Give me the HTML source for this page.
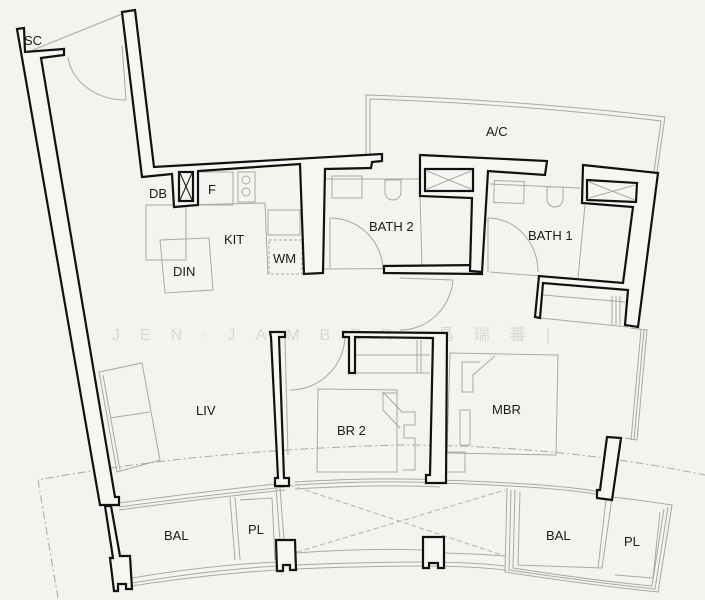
<!DOCTYPE html>
<html><head><meta charset="utf-8"><style>
html,body{margin:0;padding:0;background:#f3f3ef;}
svg{display:block;}
text{font-family:"Liberation Sans",Arial,sans-serif;font-size:13px;fill:#1a1a1a;}
</style></head><body>
<svg width="705" height="600" viewBox="0 0 705 600" xmlns="http://www.w3.org/2000/svg">
<rect width="705" height="600" fill="#f3f3ef"/>
<!-- watermark -->
<text x="112" y="340" style="font-size:16px;fill:#d9d9d4;letter-spacing:20px" font-family="Liberation Sans, Noto Sans CJK SC, sans-serif">JEN·JAMBER·晶瑞蕃|</text>

<!-- thin lines: A/C, balconies, furniture -->
<g fill="none" stroke="#a8a8a4" stroke-width="1">
<path d="M366,157 L366,95 Q520,100 665,117 L657,172"/>
<path d="M370,157 L370,99 Q520,104 661,121 L654,172"/>
<!-- entrance door -->
<line x1="122" y1="45" x2="126" y2="100"/>
<path d="M68,57 A58,48 0 0 0 126,100"/>
<line x1="28" y1="52" x2="122" y2="14"/>
<!-- kitchen furniture -->
<rect x="146" y="205" width="40" height="55"/>
<polygon points="160,240 209,238 213,290 165,293"/>
<rect x="198" y="172" width="35" height="33"/>
<rect x="238" y="172" width="17" height="30"/>
<circle cx="246" cy="180" r="4"/><circle cx="246" cy="192" r="4"/>
<polyline points="186,205 265,203 268,275"/>
<rect x="268" y="210" width="32" height="25"/>
<rect x="269" y="240" width="33" height="34" stroke-dasharray="3,2"/>
<!-- bath fixtures -->
<rect x="332" y="176" width="30" height="22"/>
<path d="M385,180 v12 a8,8 0 0 0 16,0 v-12 z"/>
<line x1="320" y1="179" x2="420" y2="179"/>
<line x1="420" y1="196" x2="422" y2="268"/>
<line x1="322" y1="269" x2="472" y2="268"/>
<rect x="494" y="181" width="30" height="22" transform="rotate(2 509 192)"/>
<path d="M547,187 v12 a8,8 0 0 0 16,0 v-12 z"/>
<line x1="490" y1="184" x2="580" y2="188"/>
<line x1="585" y1="205" x2="578" y2="278"/>
<line x1="490" y1="272" x2="540" y2="276"/>
<!-- doors -->
<line x1="330" y1="218" x2="330" y2="268"/>
<path d="M330,218 A53,53 0 0 1 383,270"/>
<line x1="488" y1="218" x2="488" y2="272"/>
<path d="M488,218 A50,54 0 0 1 538,272"/>
<path d="M453,280 A53,55 0 0 1 400,330"/>
<line x1="400" y1="278" x2="453" y2="280"/>
<path d="M290,390 A55,55 0 0 0 345,335"/>
<line x1="285" y1="338" x2="288" y2="455"/>
<!-- bath1 bottom shelf -->
<line x1="543" y1="295" x2="625" y2="302"/>
<line x1="540" y1="318" x2="628" y2="327"/>
<line x1="612" y1="296" x2="612" y2="325"/><line x1="616" y1="296" x2="616" y2="325"/><line x1="620" y1="296" x2="620" y2="325"/>
<!-- BR2 wardrobe -->
<line x1="355" y1="355" x2="430" y2="355"/>
<line x1="355" y1="373" x2="430" y2="373"/>
<line x1="417" y1="340" x2="417" y2="373"/><line x1="421" y1="340" x2="421" y2="373"/>
<!-- MBR right window -->
<path d="M630,328 L647,330 L637,440 L625,438"/>
<path d="M644,330 L634,440"/><path d="M641,330 L631,440"/>
<!-- sofa -->
<polygon points="99,372 142,363 160,460 117,472"/>
<line x1="110" y1="418" x2="150" y2="412"/>
<line x1="103" y1="375" x2="120" y2="470"/>
<!-- BR2 bed -->
<polygon points="318,389 397,390 397,472 317,472"/>
<path d="M383,392 L402,412 L415,412 L415,425 L404,425 L404,438 L415,438 L415,470 L403,470"/>
<polyline points="397,393 383,393 383,410 400,428"/>
<!-- MBR bed -->
<polygon points="450,353 558,355 556,455 447,453"/>
<path d="M495,356 L473,375 L473,392 L462,392 L462,362 L480,362"/>
<path d="M460,410 L470,410 L470,445 L460,445 Z"/>
<path d="M446,452 L465,452 L465,472 L446,472"/>
<!-- left balcony -->
<path d="M119,503 Q200,492 285,483"/>
<path d="M119,507 Q200,496 285,487"/>
<path d="M119,510 Q200,499 285,490"/>
<path d="M132,578 Q210,565 278,562"/>
<path d="M132,583 Q210,570 278,566"/>
<path d="M132,586 Q210,574 278,570"/>
<path d="M230,497 L235,560 M235,497 L240,560 M240,500 L272,498 L275,560 M276,488 L280,540 M280,488 L284,540"/>
<!-- center -->
<path d="M295,482 Q380,477 440,480 Q560,484 600,492"/>
<path d="M295,485 Q380,480 440,483 Q560,487 600,495"/>
<path d="M295,489 Q380,484 440,487"/>
<path d="M295,553 Q360,548 423,550"/>
<path d="M295,565 Q360,562 423,562 Q470,562 505,566"/>
<path d="M295,569 Q360,566 423,566 Q470,566 505,570"/>
<path d="M444,553 Q480,554 505,556"/>
<!-- right balcony -->
<path d="M507,488 L505,572 Q590,585 658,592 L672,505 Q640,500 612,497"/>
<path d="M511,490 L509,570 Q590,582 655,589 L668,507"/>
<path d="M515,490 L513,568 Q590,580 652,586 L664,509"/>
<path d="M520,492 L518,565 L602,568 L612,498 M606,500 L598,568 M660,512 L653,578 L615,575"/>
</g>
<!-- dashed lines -->
<g fill="none" stroke="#a8a8a4" stroke-width="1" stroke-dasharray="8,3,2,3">
<path d="M58,598 L38,480 Q200,450 400,445 Q560,445 705,475"/>
</g>
<g fill="none" stroke="#b0b0ac" stroke-width="1" stroke-dasharray="5,3">
<line x1="290" y1="485" x2="505" y2="556"/>
<line x1="297" y1="552" x2="505" y2="490"/>
</g>

<!-- walls -->
<g fill="#f6f6f3" stroke="#111" stroke-width="2.2" stroke-linejoin="miter">
<polygon points="17,29 24,28 25,52 64,49 64,55 41,58 115,497 119,497 119,505 100,505"/>
<polygon points="105,506 111,506 120,556 130,556 132,589 126,589 126,584 118,584 118,591 114,591 110,558 113,558"/>
<polygon points="122,12 135,10 154,167 382,154 382,161 372,162 371,168 325,169 323,273 304,274 300,164 198,171 198,205 174,207 172,174 142,177"/>
<rect x="179" y="172" width="14" height="29"/>
<polygon points="384,266 480,265 482,274 384,273"/>
<polygon points="420,155 547,161 545,175 488,171 482,272 470,271 472,198 420,196"/>
<rect x="425" y="169" width="48" height="22"/>
<polygon points="583,165 658,173 638,327 625,325 628,290 543,283 540,318 535,317 539,276 623,283 633,207 582,203"/>
<polygon points="587,180 637,183 636,202 587,200"/>
<polygon points="343,332 447,333 446,483 426,483 426,475 430,475 433,338 355,337 355,373 349,373 349,337 343,337"/>
<polygon points="270,332 285,332 285,337 279,337 284,478 289,478 289,486 275,486 275,478 278,478 271,337"/>
<polygon points="607,437 621,438 612,500 597,498 597,490 600,490"/>
<polygon points="276,540 295,540 296,570 290,570 290,565 283,565 283,571 277,571"/>
<polygon points="423,537 444,537 444,568 438,568 438,563 429,563 429,568 423,568"/>
</g>
<g fill="none" stroke="#111" stroke-width="1"><line x1="180" y1="173" x2="192" y2="200"/><line x1="192" y1="173" x2="180" y2="200"/></g>
<g fill="none" stroke="#aaa" stroke-width="1"><line x1="427" y1="171" x2="471" y2="189"/><line x1="471" y1="171" x2="427" y2="189"/><line x1="589" y1="182" x2="635" y2="200"/><line x1="635" y1="185" x2="589" y2="198"/></g>

<!-- labels -->
<text x="24" y="45">SC</text>
<text x="149" y="198">DB</text>
<text x="208" y="194">F</text>
<text x="224" y="244">KIT</text>
<text x="173" y="276">DIN</text>
<text x="273" y="263">WM</text>
<text x="486" y="136">A/C</text>
<text x="369" y="231">BATH 2</text>
<text x="528" y="240">BATH 1</text>
<text x="196" y="415">LIV</text>
<text x="337" y="435">BR 2</text>
<text x="492" y="414">MBR</text>
<text x="164" y="540">BAL</text>
<text x="248" y="534">PL</text>
<text x="546" y="540">BAL</text>
<text x="624" y="546">PL</text>
</svg>
</body></html>
